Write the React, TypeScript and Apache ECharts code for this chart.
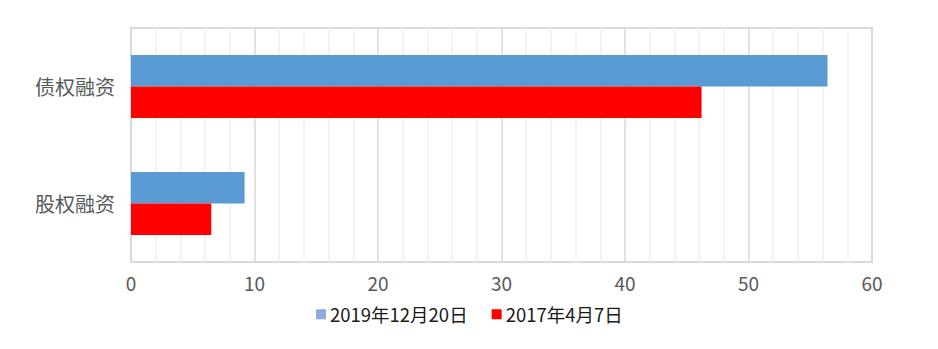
import React, { useEffect, useRef } from "react";
import * as echarts from "echarts";

const categories = ["债权融资", "股权融资"];
const seriesNames = ["2019年12月20日", "2017年4月7日"];
const values2019 = [56.4, 9.2];
const values2017 = [46.2, 6.5];
const xTicks = { min: 0, max: 60, interval: 10 };

const FONT = "'Noto Sans CJK SC', 'Microsoft YaHei', sans-serif";

export default function App() {
  const ref = useRef<HTMLDivElement>(null);
  useEffect(() => {
    document.body.style.margin = "0";
    if (!ref.current) return;
    const chart = echarts.init(ref.current, undefined, { renderer: "svg" });
    chart.setOption({
      animation: false,
      backgroundColor: "#ffffff",
      grid: {
        left: 131,
        right: 66,
        top: 28,
        bottom: 87,
        show: true,
        borderColor: "#D9D9D9",
        borderWidth: 2,
        containLabel: false,
      },
      legend: {
        top: 300,
        left: 311,
        itemWidth: 10,
        itemHeight: 10,
        itemGap: 24,
        icon: "rect",
        textStyle: { color: "#1a1a1a", fontSize: 18.5, fontFamily: FONT, padding: [0, 0, 0, -1] },
        data: [
          { name: seriesNames[0], itemStyle: { color: "#8EA9DB" } },
          { name: seriesNames[1], itemStyle: { color: "#FF0000" } },
        ],
      },
      xAxis: {
        type: "value",
        min: xTicks.min,
        max: xTicks.max,
        interval: xTicks.interval,
        axisLine: { show: false },
        axisTick: { show: false },
        axisLabel: { color: "#595959", fontSize: 19, fontFamily: FONT, margin: 11 },
        splitLine: { show: true, lineStyle: { color: "#D9D9D9", width: 1.5 } },
        minorTick: { show: false, splitNumber: 5 },
        minorSplitLine: { show: true, lineStyle: { color: "#EFEFEF", width: 1.5 } },
      },
      yAxis: {
        type: "category",
        inverse: true,
        data: categories,
        axisLine: { show: false },
        axisTick: { show: false },
        axisLabel: { color: "#595959", fontSize: 20, fontFamily: FONT, margin: 16 },
        splitLine: { show: false },
      },
      series: [
        {
          name: seriesNames[0],
          type: "bar",
          data: values2019,
          barGap: "0%",
          barCategoryGap: "46%",
          itemStyle: { color: "#5B9BD5" },
        },
        {
          name: seriesNames[1],
          type: "bar",
          data: values2017,
          barGap: "0%",
          barCategoryGap: "46%",
          itemStyle: { color: "#FF0000" },
        },
      ],
    });
    return () => chart.dispose();
  }, []);
  return <div ref={ref} style={{ width: 938, height: 349 }} />;
}
